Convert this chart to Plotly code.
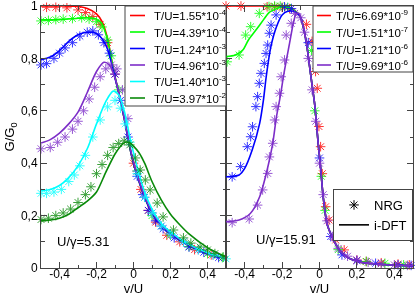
import plotly.graph_objects as go

# ---------------- data ----------------
# Left panel (U/gamma = 5.31)
LEFT_NAMES = ["T/U=1.55*10<sup>-4</sup>", "T/U=4.39*10<sup>-4</sup>", "T/U=1.24*10<sup>-3</sup>",
              "T/U=4.96*10<sup>-3</sup>", "T/U=1.40*10<sup>-3</sup>", "T/U=3.97*10<sup>-2</sup>"]
LEFT_COLORS = ["#ff0000", "#00ff00", "#0000ff", "#7d2ec8", "#00ffff", "#0a8a0a"]

TAIL_V = [-0.08, -0.05, -0.02, 0.0, 0.03, 0.06, 0.1, 0.15, 0.2, 0.3, 0.4, 0.5]
TAIL_G = [0.67, 0.57, 0.46, 0.40, 0.33, 0.27, 0.21, 0.16, 0.13, 0.085, 0.055, 0.035]

L_RED_V = [-0.5, -0.4, -0.3, -0.25, -0.2, -0.17, -0.14, -0.12, -0.1] + TAIL_V
L_RED_G = [1.0, 1.0, 0.998, 0.99, 0.97, 0.94, 0.875, 0.8, 0.73] + TAIL_G
L_LIME_V = [-0.5, -0.4, -0.3, -0.25, -0.2, -0.17, -0.14, -0.12, -0.1] + TAIL_V
L_LIME_G = [0.947, 0.948, 0.953, 0.955, 0.95, 0.93, 0.87, 0.8, 0.73] + TAIL_G
L_BLUE_V = [-0.5, -0.45, -0.4, -0.35, -0.3, -0.25, -0.2, -0.17, -0.14, -0.12, -0.1] + TAIL_V
L_BLUE_G = [0.795, 0.805, 0.83, 0.865, 0.89, 0.90, 0.895, 0.875, 0.835, 0.785, 0.725] + TAIL_G
L_PURP_V = [-0.5, -0.45, -0.4, -0.35, -0.3, -0.25, -0.2, -0.16, -0.13, -0.1, -0.08, -0.05, -0.02,
            0.0, 0.03, 0.06, 0.1, 0.15, 0.2, 0.3, 0.4, 0.5]
L_PURP_G = [0.477, 0.49, 0.515, 0.55, 0.595, 0.67, 0.75, 0.785, 0.775, 0.725, 0.67, 0.575, 0.465,
            0.405, 0.335, 0.275, 0.215, 0.165, 0.135, 0.088, 0.057, 0.036]
L_CYAN_V = [-0.5, -0.45, -0.4, -0.35, -0.3, -0.25, -0.2, -0.15, -0.11, -0.08, -0.05, -0.02,
            0.0, 0.03, 0.06, 0.1, 0.15, 0.2, 0.3, 0.4, 0.5]
L_CYAN_G = [0.295, 0.30, 0.315, 0.345, 0.39, 0.455, 0.55, 0.635, 0.675, 0.66, 0.60, 0.50,
            0.44, 0.36, 0.29, 0.225, 0.17, 0.138, 0.09, 0.058, 0.037]
L_DKGR_V = [-0.5, -0.45, -0.4, -0.35, -0.3, -0.25, -0.2, -0.15, -0.1, -0.07, -0.045, -0.02,
            0.0, 0.03, 0.06, 0.1, 0.15, 0.2, 0.25, 0.3, 0.4, 0.5]
L_DKGR_G = [0.18, 0.183, 0.19, 0.205, 0.23, 0.255, 0.29, 0.365, 0.435, 0.465, 0.48, 0.478,
            0.465, 0.44, 0.40, 0.33, 0.26, 0.205, 0.165, 0.13, 0.078, 0.042]

N_RED_V = [-0.47, -0.42, -0.36, -0.3, -0.26, -0.22, -0.18, -0.14, -0.1, 0.0, 0.04, 0.08, 0.12,
           0.18, 0.25, 0.33, 0.42]
N_RED_G = [0.995, 0.995, 0.993, 0.985, 0.975, 0.96, 0.93, 0.86, 0.74, 0.40, 0.30, 0.22, 0.175,
           0.125, 0.10, 0.07, 0.05]
N_LIME_V = [-0.5, -0.46, -0.42, -0.38, -0.33, -0.28, -0.24, -0.2, -0.17, -0.14, -0.12, -0.08,
            0.02, 0.1, 0.2, 0.3, 0.4, 0.48]
N_LIME_G = [0.943, 0.945, 0.948, 0.95, 0.952, 0.955, 0.95, 0.94, 0.92, 0.87, 0.81, 0.68,
            0.37, 0.20, 0.125, 0.082, 0.055, 0.04]
N_BLUE_V = [-0.5, -0.47, -0.43, -0.4, -0.37, -0.33, -0.29, -0.25, -0.22, -0.19, -0.16, -0.13,
            -0.1, -0.07, -0.03, 0.02, 0.05, 0.08, 0.12, 0.16, 0.22, 0.3, 0.38, 0.46]
N_BLUE_G = [0.775, 0.78, 0.80, 0.82, 0.84, 0.86, 0.885, 0.90, 0.905, 0.89, 0.86, 0.82,
            0.74, 0.64, 0.50, 0.35, 0.28, 0.22, 0.18, 0.15, 0.115, 0.08, 0.06, 0.04]
N_PURP_V = [-0.5, -0.45, -0.41, -0.37, -0.33, -0.3, -0.27, -0.24, -0.21, -0.18, -0.15, -0.12,
            -0.09, -0.06, -0.03, 0.02, 0.06, 0.1, 0.15, 0.2, 0.27, 0.35, 0.43]
N_PURP_G = [0.455, 0.46, 0.48, 0.50, 0.53, 0.56, 0.60, 0.645, 0.69, 0.73, 0.76, 0.775,
            0.76, 0.68, 0.57, 0.37, 0.27, 0.21, 0.16, 0.13, 0.10, 0.07, 0.05]
N_CYAN_V = [-0.5, -0.47, -0.43, -0.39, -0.35, -0.32, -0.29, -0.26, -0.22, -0.18, -0.14, -0.1,
            -0.07, -0.045, -0.02, 0.02, 0.06, 0.1, 0.15, 0.2, 0.27, 0.35, 0.43, 0.5]
N_CYAN_G = [0.285, 0.285, 0.29, 0.30, 0.33, 0.355, 0.39, 0.43, 0.50, 0.565, 0.615, 0.64,
            0.61, 0.55, 0.48, 0.36, 0.27, 0.21, 0.16, 0.13, 0.10, 0.07, 0.05, 0.035]
N_DKGR_V = [-0.5, -0.46, -0.42, -0.38, -0.34, -0.3, -0.26, -0.23, -0.2, -0.17, -0.14, -0.11,
            -0.08, -0.05, -0.02, 0.01, 0.036, 0.064, 0.09, 0.128, 0.16, 0.216, 0.27, 0.31,
            0.36, 0.4, 0.44, 0.485]
N_DKGR_G = [0.185, 0.19, 0.2, 0.21, 0.225, 0.25, 0.28, 0.31, 0.36, 0.395, 0.43, 0.46,
            0.475, 0.485, 0.47, 0.42, 0.374, 0.336, 0.298, 0.248, 0.195, 0.145, 0.115, 0.095,
            0.08, 0.069, 0.055, 0.042]

# Right panel (U/gamma = 15.91)
RIGHT_NAMES = ["T/U=6.69*10<sup>-9</sup>", "T/U=1.51*10<sup>-7</sup>",
               "T/U=1.21*10<sup>-6</sup>", "T/U=9.69*10<sup>-6</sup>"]
RIGHT_COLORS = ["#ff0000", "#00ff00", "#0000ff", "#7d2ec8"]

FALL_V = [-0.1, -0.09, -0.07, -0.055, -0.04, -0.025, -0.015, -0.005, 0.005, 0.02, 0.04, 0.06,
          0.08, 0.1, 0.13, 0.17, 0.22, 0.3, 0.4, 0.5]
FALL_G = [0.955, 0.93, 0.86, 0.78, 0.70, 0.62, 0.54, 0.46, 0.39, 0.27, 0.17, 0.13,
          0.10, 0.075, 0.05, 0.033, 0.022, 0.015, 0.011, 0.008]

R_RED_V = [-0.5, -0.3, -0.2, -0.15, -0.12] + FALL_V
R_RED_G = [1.0, 1.0, 0.998, 0.99, 0.975] + FALL_G
R_LIME_V = [-0.5, -0.45, -0.41, -0.38, -0.34, -0.3, -0.27, -0.23, -0.2, -0.15, -0.12] + FALL_V
R_LIME_G = [0.807, 0.813, 0.832, 0.87, 0.908, 0.947, 0.975, 0.99, 0.997, 0.99, 0.975] + FALL_G
R_BLUE_V = [-0.5, -0.43, -0.4, -0.36, -0.32, -0.3, -0.285, -0.26, -0.23, -0.2, -0.17, -0.14,
            -0.12] + FALL_V
R_BLUE_G = [0.348, 0.355, 0.38, 0.45, 0.552, 0.64, 0.73, 0.845, 0.921, 0.966, 0.98, 0.98,
            0.972] + FALL_G
R_PURP_V = [-0.5, -0.43, -0.37, -0.32, -0.28, -0.25, -0.23, -0.21, -0.19, -0.16, -0.14,
            -0.125, -0.11] + FALL_V[1:]
R_PURP_G = [0.177, 0.183, 0.208, 0.272, 0.374, 0.476, 0.578, 0.654, 0.743, 0.858, 0.934,
            0.97, 0.972] + FALL_G[1:]

NR_RED_V = [-0.5, -0.42, -0.28, -0.24, -0.2, -0.16, -0.07, -0.04, -0.021, -0.012, -0.003, 0.006,
            0.015, 0.033, 0.051, 0.087, 0.132, 0.2, 0.25, 0.33, 0.42, 0.48]
NR_RED_G = [1.0, 1.0, 0.997, 0.997, 0.995, 0.99, 0.93, 0.865, 0.75, 0.686, 0.54, 0.463,
            0.36, 0.234, 0.183, 0.107, 0.069, 0.03, 0.025, 0.02, 0.015, 0.012]
NR_LIME_V = [-0.494, -0.43, -0.395, -0.368, -0.322, -0.27, -0.24, -0.21, -0.17, -0.043, -0.025,
             0.01, 0.03, 0.1, 0.25, 0.35, 0.45]
NR_LIME_G = [0.787, 0.813, 0.889, 0.921, 0.972, 0.998, 1.0, 1.0, 0.995, 0.83, 0.60,
             0.35, 0.22, 0.07, 0.025, 0.018, 0.012]
NR_BLUE_V = [-0.467, -0.422, -0.386, -0.368, -0.358, -0.34, -0.331, -0.322, -0.313, -0.295,
             -0.286, -0.277, -0.268, -0.259, -0.232, -0.187, -0.15, -0.06, 0.0, 0.06, 0.12,
             0.2, 0.3, 0.42, 0.49]
NR_BLUE_G = [0.348, 0.387, 0.463, 0.501, 0.539, 0.616, 0.654, 0.705, 0.743, 0.781,
             0.819, 0.851, 0.896, 0.927, 0.966, 0.997, 0.99, 0.86, 0.42, 0.12, 0.05,
             0.028, 0.018, 0.012, 0.01]
NR_PURP_V = [-0.467, -0.376, -0.331, -0.304, -0.277, -0.268, -0.25, -0.24, -0.232, -0.214,
             -0.205, -0.187, -0.178, -0.151, -0.133, -0.1, -0.08, -0.06, -0.04, -0.02, 0.0,
             0.02, 0.04, 0.07, 0.1, 0.15, 0.2, 0.26, 0.33, 0.4, 0.47]
NR_PURP_G = [0.173, 0.187, 0.24, 0.298, 0.361, 0.424, 0.476, 0.565, 0.616, 0.667,
             0.73, 0.794, 0.889, 0.934, 0.972, 0.955, 0.9, 0.8, 0.68, 0.56, 0.4,
             0.28, 0.18, 0.12, 0.075, 0.045, 0.03, 0.022, 0.016, 0.012, 0.01]

X_TICKVALS = [-0.4, -0.2, 0, 0.2, 0.4]
X_TICKTEXT = ["-0,4", "-0,2", "0", "0,2", "0,4"]
Y_TICKVALS = [0, 0.2, 0.4, 0.6, 0.8, 1]
Y_TICKTEXT = ["0", "0,2", "0,4", "0,6", "0,8", "1"]

# ---------------- figure ----------------
FONT = "Liberation Sans, Arial, sans-serif"
W, H = 415, 298
ML, MR, MT, MB = 41, 2, 6, 30
PW, PH = W - ML - MR, H - MT - MB


def px(xp):  # pixel -> paper x
    return (xp - ML) / PW


def py(yp):  # pixel -> paper y
    return (H - MB - yp) / PH


fig = go.Figure()

left_lines = [(L_RED_V, L_RED_G), (L_LIME_V, L_LIME_G), (L_BLUE_V, L_BLUE_G),
              (L_PURP_V, L_PURP_G), (L_CYAN_V, L_CYAN_G), (L_DKGR_V, L_DKGR_G)]
left_nrg = [(N_RED_V, N_RED_G), (N_LIME_V, N_LIME_G), (N_BLUE_V, N_BLUE_G),
            (N_PURP_V, N_PURP_G), (N_CYAN_V, N_CYAN_G), (N_DKGR_V, N_DKGR_G)]
right_lines = [(R_RED_V, R_RED_G), (R_LIME_V, R_LIME_G), (R_BLUE_V, R_BLUE_G), (R_PURP_V, R_PURP_G)]
right_nrg = [(NR_RED_V, NR_RED_G), (NR_LIME_V, NR_LIME_G), (NR_BLUE_V, NR_BLUE_G),
             (NR_PURP_V, NR_PURP_G)]

marker_style = dict(symbol="asterisk-open", size=8)
shapes, annotations = [], []


def add_panel(names, colors, lines, nrgs, xa, ya, box, line_x, text_x, row0, dy):
    for name, col, (lv, lg), (nv, ng) in zip(names, colors, lines, nrgs):
        fig.add_trace(go.Scatter(x=nv, y=ng, mode="markers", xaxis=xa, yaxis=ya,
                                 marker=dict(color=col, line=dict(color=col, width=1), **marker_style),
                                 showlegend=False, opacity=0.8, hoverinfo="skip", cliponaxis=False))
        fig.add_trace(go.Scatter(x=lv, y=lg, mode="lines", xaxis=xa, yaxis=ya, name=name,
                                 line=dict(color=col, width=1.6, shape="spline", smoothing=0.8),
                                 showlegend=False))
    # legend box drawn as layout shapes/annotations (compact, like the original)
    x0, y0, x1, y1 = box
    shapes.append(dict(type="rect", xref="paper", yref="paper", x0=px(x0), x1=px(x1),
                       y0=py(y1), y1=py(y0), fillcolor="white",
                       line=dict(color="#444", width=1), layer="above"))
    for i, (name, col) in enumerate(zip(names, colors)):
        yy = py(row0 + i * dy)
        shapes.append(dict(type="line", xref="paper", yref="paper", x0=px(line_x[0]),
                           x1=px(line_x[1]), y0=yy, y1=yy, line=dict(color=col, width=1.6),
                           layer="above"))
        annotations.append(dict(text=name, xref="paper", yref="paper", x=px(text_x), y=yy,
                                xanchor="left", yanchor="middle", showarrow=False,
                                font=dict(size=11.5, color="black", family=FONT)))


add_panel(LEFT_NAMES, LEFT_COLORS, left_lines, left_nrg, "x", "y",
          (125, 6, 226, 106), (130, 145), 152, 15.5, 16.5)
add_panel(RIGHT_NAMES, RIGHT_COLORS, right_lines, right_nrg, "x2", "y2",
          (313, 6, 413, 72), (317, 331), 334, 15.5, 16.5)

# NRG / i-DFT key
fig.add_trace(go.Scatter(x=[None], y=[None], mode="markers", name="NRG", xaxis="x2", yaxis="y2",
                         marker=dict(color="black", line=dict(color="black", width=1), **marker_style),
                         legend="legend"))
fig.add_trace(go.Scatter(x=[None], y=[None], mode="lines", name="i-DFT", xaxis="x2", yaxis="y2",
                         line=dict(color="black", width=1.6), legend="legend"))

SPLIT = px(226)
axis_common = dict(range=[-0.5, 0.5], showline=True, linecolor="#444", linewidth=1,
                   mirror="ticks", ticks="inside", ticklen=6, tickcolor="#444", automargin=False,
                   tickvals=X_TICKVALS, ticktext=X_TICKTEXT, showgrid=False, zeroline=False,
                   minor=dict(ticks="inside", ticklen=3.5, dtick=0.1, tick0=0, tickcolor="#444",
                              showgrid=False),
                   tickfont=dict(size=12, color="black", family=FONT), ticklabeloverflow="allow",
                   ticklabelstandoff=-5,
                   title=dict(text="v/U", font=dict(size=13, color="black", family=FONT), standoff=3))
yaxis_common = dict(range=[0, 1], showline=True, linecolor="#444", linewidth=1,
                    mirror="ticks", ticks="inside", ticklen=6, tickcolor="#444", automargin=False,
                    tickvals=Y_TICKVALS, ticktext=Y_TICKTEXT, showgrid=False, zeroline=False,
                    minor=dict(ticks="inside", ticklen=3.5, dtick=0.1, tick0=0, tickcolor="#444",
                               showgrid=False),
                    tickfont=dict(size=12, color="black", family=FONT), ticklabeloverflow="allow")

annotations += [
    dict(text="U/γ=5.31", x=-0.423, y=0.1, xref="x", yref="y", showarrow=False,
         xanchor="left", yanchor="middle", font=dict(size=13, color="black", family=FONT)),
    dict(text="U/γ=15.91", x=-0.349, y=0.107, xref="x2", yref="y2", showarrow=False,
         xanchor="left", yanchor="middle", font=dict(size=13, color="black", family=FONT)),
]

fig.update_layout(
    width=W, height=H,
    margin=dict(l=ML, r=MR, t=MT, b=MB),
    plot_bgcolor="white", paper_bgcolor="white",
    font=dict(family=FONT, color="black"),
    xaxis=dict(domain=[0, SPLIT], anchor="y", **axis_common),
    xaxis2=dict(domain=[SPLIT, 1], anchor="y2", **axis_common),
    yaxis=dict(domain=[0, 1], anchor="x",
               title=dict(text="G/G<sub>0</sub>", font=dict(size=13, color="black", family=FONT),
                          standoff=3),
               **yaxis_common),
    yaxis2=dict(domain=[0, 1], anchor="x2", showticklabels=False, **yaxis_common),
    showlegend=True,
    legend=dict(x=1, y=py(189), xanchor="right", yanchor="top", bgcolor="white",
                bordercolor="#444", borderwidth=1, itemwidth=30, tracegroupgap=0,
                font=dict(size=13, color="black", family=FONT)),
    shapes=shapes,
    annotations=annotations,
)

fig.write_html("out.html", config={"displayModeBar": False},
               post_script="document.body.style.margin='0px';")
